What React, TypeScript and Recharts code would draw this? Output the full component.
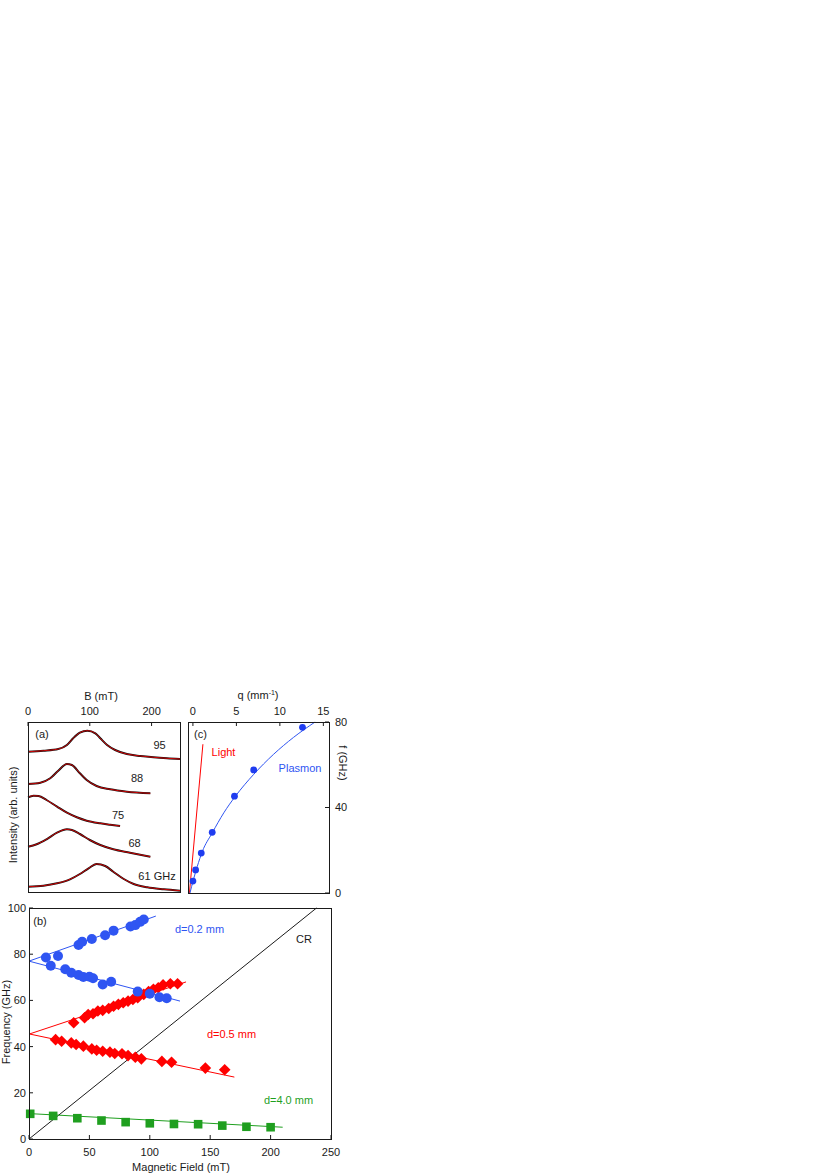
import { ComposedChart, Scatter, Line, XAxis, YAxis } from 'recharts'
import type { CSSProperties } from 'react'

const FONT = 'Arial, "Liberation Sans", Helvetica, sans-serif'
const INK = '#1a1a1a'
const BLUE = '#2f55f2'
const RED = '#ff0000'
const GREEN = '#1f9f1f'

// ---- panel (a): field sweeps at fixed frequency (intensity in arb. units, offset per trace)
const bTicksA = [0, 100, 200]
const b95 = [0, 25, 49, 63, 73, 84, 96, 109, 117, 128, 141, 160, 182, 203, 225, 246]
const i95 = [140.3, 141.3, 143, 147, 153.7, 159.3, 161.3, 158.7, 153.7, 147, 142, 138, 136, 134.7, 133.7, 133]
const b88 = [0, 20, 36, 49, 63, 71, 84, 95, 111, 133, 160, 198]
const i88 = [108, 109.3, 113.7, 121.3, 128, 127, 118.7, 112, 106, 102.7, 100.3, 98.7]
const b75 = [0, 9, 17, 30, 47, 63, 79, 95, 117, 133, 149]
const i75 = [94.7, 96.3, 96, 92, 85.3, 79.3, 74.7, 71.3, 68.7, 67.3, 66]
const b68 = [0, 14, 30, 47, 63, 71, 84, 100, 117, 138, 165, 198]
const i68 = [45.3, 47.7, 52.7, 59.3, 62.7, 62, 58, 52, 47, 42.7, 39.3, 35.3]
const b61 = [0, 25, 47, 68, 84, 98, 111, 125, 138, 155, 171, 193, 220, 246]
const i61 = [5.3, 6.3, 8.7, 12.7, 18, 23.7, 28, 26, 20.3, 13, 8, 4.7, 2.7, 1.3]

// ---- panel (c): dispersion
const qTicks = [0, 5, 10, 15]
const fTicksC = [0, 40, 80]
const plasmonQ = [0, 0.31, 0.96, 2.22, 4.78, 6.99, 12.6]
const plasmonF = [5.6, 10.8, 18.7, 28.4, 45.3, 57.6, 77.5]
const plasmonFitQ = [-0.34, 0.05, 0.5, 1.08, 2.22, 3.55, 4.89, 6.99, 9.28, 11.57, 14.05]
const plasmonFitF = [0, 6.1, 12.4, 19.4, 28.1, 37.5, 45.3, 55.5, 64.9, 72.8, 80]
const lightQ = [-0.4, 1.15]
const lightF = [0, 69.6]

// ---- panel (b): frequency vs magnetic field
const fieldTicks = [0, 50, 100, 150, 200, 250]
const freqTicks = [0, 20, 40, 60, 80, 100]
const blueUpB = [14, 24, 41, 44, 52, 63, 70, 84, 88, 92, 95]
const blueUpF = [78.6, 79.2, 84.0, 85.4, 86.6, 88.2, 90.2, 92.0, 92.6, 94.0, 95.0]
const blueLoB = [18, 30, 35, 41, 45, 50, 53, 61, 68, 90, 100, 108, 114]
const blueLoF = [75.0, 73.5, 72.0, 71.0, 70.1, 70.2, 69.6, 66.9, 68.1, 63.8, 62.9, 61.4, 60.9]
const redUpB = [37, 46, 49, 53, 57, 61, 66, 70, 74, 78, 82, 86, 90, 95, 99, 103, 107, 111, 117, 123]
const redUpF = [50.3, 52.5, 53.9, 54.2, 55.4, 55.7, 56.5, 57.5, 58.3, 59, 59.7, 60.4, 61.2, 62.6, 63.8, 64.8, 65.5, 66.7, 67.2, 67.2]
const redLoB = [22, 27, 35, 39, 45, 52, 56, 61, 67, 71, 77, 82, 88, 93, 110, 118, 146, 162]
const redLoF = [43, 42.3, 41.6, 40.9, 40.2, 39, 38.4, 38, 37.6, 37, 36.9, 36.1, 35.4, 34.7, 33.6, 33.2, 30.7, 30]
const greenB = [1, 20, 40, 60, 80, 100, 120, 140, 160, 180, 200]
const greenF = [10.9, 10, 9, 8, 7.3, 6.8, 6.5, 6.4, 5.8, 5.3, 5.1]
// fitted lines (end points)
const fitBlueUp = { b: [0, 105], f: [77, 96.5] }
const fitBlueLo = { b: [0, 125], f: [77, 59.7] }
const fitRedUp = { b: [0, 130], f: [45.4, 68] }
const fitRedLo = { b: [0, 170], f: [45.5, 26.8] }
const fitGreen = { b: [0, 210], f: [11, 5.1] }
const crLine = { b: [0, 238], f: [0, 100] }

const pts = (xs: number[], ys: number[]) => xs.map((x, i) => ({ x, y: ys[i] }))

// ticks point into the plot; m is the tickMargin given to the axis
type Orient = 'top' | 'bottom' | 'left' | 'right'
const inTick = (orient: Orient, m: number) => (p: any) => {
  const { x, y, payload } = p
  const t = { fill: INK, fontSize: 11, fontFamily: FONT }
  if (orient === 'bottom') {
    return (
      <g>
        <line x1={x} x2={x} y1={y - m} y2={y - m - 4} stroke={INK} />
        <text x={x} y={y} dy="0.71em" textAnchor="middle" {...t}>{payload.value}</text>
      </g>
    )
  }
  if (orient === 'top') {
    return (
      <g>
        <line x1={x} x2={x} y1={y + m} y2={y + m + 4} stroke={INK} />
        <text x={x} y={y} textAnchor="middle" {...t}>{payload.value}</text>
      </g>
    )
  }
  if (orient === 'left') {
    return (
      <g>
        <line x1={x + m} x2={x + m + 4} y1={y} y2={y} stroke={INK} />
        <text x={x} y={y} dy="0.36em" textAnchor="end" {...t}>{payload.value}</text>
      </g>
    )
  }
  return (
    <g>
      <line x1={x - m} x2={x - m - 4} y1={y} y2={y} stroke={INK} />
      <text x={x} y={y} dy="0.36em" textAnchor="start" {...t}>{payload.value}</text>
    </g>
  )
}

const Circle = (r: number, color: string) => (p: any) =>
  <circle cx={p.cx} cy={p.cy} r={r} fill={color} />
const Diamond = (p: any) => {
  const s = 5.8
  return <polygon points={`${p.cx},${p.cy - s} ${p.cx + s},${p.cy} ${p.cx},${p.cy + s} ${p.cx - s},${p.cy}`} fill={RED} />
}
const Square = (p: any) => <rect x={p.cx - 4.3} y={p.cy - 4.3} width={8.6} height={8.6} fill={GREEN} />

function Txt({ x, y, children, color = INK, size = 11, rotate = 0 }: any) {
  const style: CSSProperties = {
    position: 'absolute', left: x, top: y, transform: `translate(-50%, -50%) rotate(${rotate}deg)`,
    color, fontSize: size, fontFamily: FONT, whiteSpace: 'nowrap', lineHeight: 1,
  }
  return <div style={style}>{children}</div>
}

function Frame({ l, t, r, b }: { l: number; t: number; r: number; b: number }) {
  return (
    <div style={{
      position: 'absolute', left: l, top: t, width: r - l + 1, height: b - t + 1,
      border: `1px solid ${INK}`, boxSizing: 'border-box', pointerEvents: 'none',
    }} />
  )
}

function PanelA() {
  const traces = [pts(b95, i95), pts(b88, i88), pts(b75, i75), pts(b68, i68), pts(b61, i61)]
  return (
    <div style={{ position: 'absolute', left: 0, top: 680 }}>
      <ComposedChart width={190} height={220} margin={{ top: 12, left: 28, right: 10, bottom: 8 }}>
        <XAxis type="number" dataKey="x" orientation="top" domain={[0, 246]} ticks={bTicksA} interval={0}
          height={30} axisLine={false} tickLine={false} tickSize={0} tickMargin={7} tick={inTick('top', 7)} />
        <YAxis type="number" dataKey="y" domain={[0, 170]} width={0} hide />
        {traces.map((d, i) => (
          <Line key={'k' + i} data={d} dataKey="y" type="monotone" stroke="#111" strokeWidth={2}
            dot={false} isAnimationActive={false} />
        ))}
        {traces.map((d, i) => (
          <Line key={'r' + i} data={d} dataKey="y" type="monotone" stroke={RED} strokeWidth={0.8}
            dot={false} isAnimationActive={false} />
        ))}
      </ComposedChart>
    </div>
  )
}

function PanelC() {
  return (
    <div style={{ position: 'absolute', left: 180, top: 680 }}>
      <ComposedChart width={180} height={220} margin={{ top: 12, left: 9, right: 0, bottom: 7 }}>
        <XAxis type="number" dataKey="x" orientation="top" domain={[-0.45, 15.65]} ticks={qTicks} interval={0}
          height={30} axisLine={false} tickLine={false} tickSize={0} tickMargin={7} tick={inTick('top', 7)} />
        <YAxis type="number" dataKey="y" orientation="right" domain={[0, 80]} ticks={fTicksC} interval={0}
          width={31} axisLine={false} tickLine={false} tickSize={0} tickMargin={6} tick={inTick('right', 6)} />
        <Line data={pts(lightQ, lightF)} dataKey="y" stroke={RED} strokeWidth={1} dot={false}
          isAnimationActive={false} />
        <Line data={pts(plasmonFitQ, plasmonFitF)} dataKey="y" type="monotone" stroke={BLUE}
          strokeWidth={1} dot={false} isAnimationActive={false} />
        <Scatter data={pts(plasmonQ, plasmonF)} shape={Circle(3.4, '#1f3cf0')} isAnimationActive={false} />
      </ComposedChart>
    </div>
  )
}

function PanelB() {
  const fit = (d: { b: number[]; f: number[] }, color: string, w = 1) => (
    <Line data={pts(d.b, d.f)} dataKey="y" stroke={color} strokeWidth={w} dot={false} isAnimationActive={false} />
  )
  return (
    <div style={{ position: 'absolute', left: 0, top: 895 }}>
      <ComposedChart width={345} height={279} margin={{ top: 13, left: 0, right: 14, bottom: 5 }}>
        <XAxis type="number" dataKey="x" domain={[0, 250]} ticks={fieldTicks} interval={0} height={30}
          axisLine={false} tickLine={false} tickSize={0} tickMargin={9} tick={inTick('bottom', 9)} />
        <YAxis type="number" dataKey="y" domain={[0, 100]} ticks={freqTicks} interval={0} width={29}
          axisLine={false} tickLine={false} tickSize={0} tickMargin={3} tick={inTick('left', 3)} />
        {fit(crLine, INK)}
        {fit(fitGreen, GREEN)}
        {fit(fitRedLo, RED)}
        {fit(fitRedUp, RED)}
        {fit(fitBlueUp, BLUE)}
        {fit(fitBlueLo, BLUE)}
        <Scatter data={pts(greenB, greenF)} shape={Square} isAnimationActive={false} />
        <Scatter data={pts(redLoB, redLoF)} shape={Diamond} isAnimationActive={false} />
        <Scatter data={pts(redUpB, redUpF)} shape={Diamond} isAnimationActive={false} />
        <Scatter data={pts(blueUpB, blueUpF)} shape={Circle(5, BLUE)} isAnimationActive={false} />
        <Scatter data={pts(blueLoB, blueLoF)} shape={Circle(5, BLUE)} isAnimationActive={false} />
      </ComposedChart>
    </div>
  )
}

export default function App() {
  return (
    <div style={{ position: 'absolute', left: 0, top: 0, width: 830, height: 1174, background: '#fff' }}>
      <PanelA />
      <PanelC />
      <PanelB />
      <Frame l={28} t={722} r={180} b={892} />
      <Frame l={188} t={722} r={329} b={893} />
      <Frame l={29} t={908} r={331} b={1139} />

      <Txt x={101} y={696}>B (mT)</Txt>
      <Txt x={258} y={695}>q (mm<sup style={{ fontSize: 7 }}>-1</sup>)</Txt>
      <Txt x={13} y={815} rotate={-90}>Intensity (arb. units)</Txt>
      <Txt x={342} y={763} rotate={90}>f (GHz)</Txt>
      <Txt x={6} y={1022} rotate={-90}>Frequency (GHz)</Txt>
      <Txt x={181} y={1167}>Magnetic Field (mT)</Txt>

      <Txt x={42} y={734}>(a)</Txt>
      <Txt x={159.5} y={745}>95</Txt>
      <Txt x={137} y={778}>88</Txt>
      <Txt x={118} y={815}>75</Txt>
      <Txt x={134.5} y={843}>68</Txt>
      <Txt x={157} y={876}>61 GHz</Txt>

      <Txt x={200.5} y={734}>(c)</Txt>
      <Txt x={223.5} y={752} color={RED}>Light</Txt>
      <Txt x={300} y={768} color={BLUE}>Plasmon</Txt>

      <Txt x={40} y={921}>(b)</Txt>
      <Txt x={199.5} y={928.5} color={BLUE}>d=0.2 mm</Txt>
      <Txt x={304} y={939}>CR</Txt>
      <Txt x={231.5} y={1034} color={RED}>d=0.5 mm</Txt>
      <Txt x={288.5} y={1100} color={GREEN}>d=4.0 mm</Txt>
    </div>
  )
}
